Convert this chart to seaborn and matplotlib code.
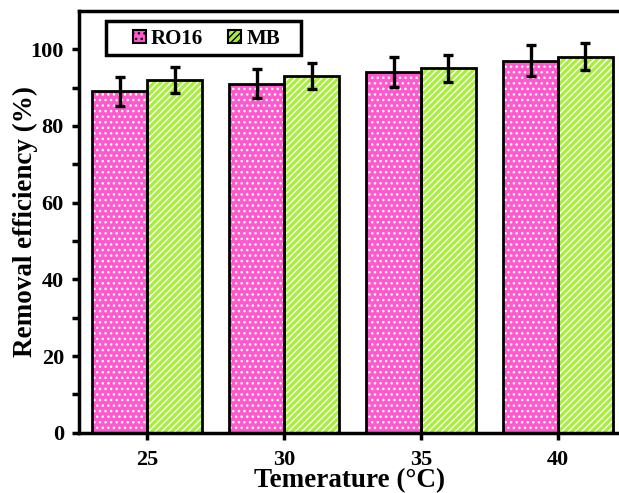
import matplotlib
matplotlib.use('Agg')
import matplotlib.pyplot as plt
import matplotlib.patches as mpatches
import numpy as np
import pandas as pd
import seaborn as sns

sns.set_style('ticks')
plt.rcParams['font.family'] = ['Liberation Serif', 'DejaVu Serif']
plt.rcParams['font.weight'] = 'bold'
plt.rcParams['hatch.linewidth'] = 1.0

# data
temps = ['25', '30', '35', '40']
ro16 = [89, 91, 94, 97]
mb = [92, 93, 95, 98]
ro16_err = [3.8, 3.8, 3.9, 4.0]
mb_err = [3.4, 3.4, 3.5, 3.5]
dyes = ['RO16', 'MB']

df = pd.DataFrame({
    'temp': temps * 2,
    'dye': ['RO16'] * 4 + ['MB'] * 4,
    'eff': ro16 + mb,
    'err': ro16_err + mb_err,
})

colors = {'RO16': '#ff5acd', 'MB': '#a8ef3c'}
hatches = {'RO16': '...', 'MB': '/////'}

fig = plt.figure(figsize=(6.19, 4.93), dpi=100)
ax = fig.add_axes([0.128, 0.122, 0.872, 0.856])

# fill + white hatch
sns.barplot(data=df, x='temp', y='eff', hue='dye', hue_order=dyes, order=temps,
            palette=colors, saturation=1, linewidth=0, width=0.8, legend=False, ax=ax)
for cont, d in zip(ax.containers, dyes):
    for p in cont:
        p.set_hatch(hatches[d])
        p.set_edgecolor('white')
        p.set_linewidth(0)

# black outline on top
n_fill = len(ax.containers)
sns.barplot(data=df, x='temp', y='eff', hue='dye', hue_order=dyes, order=temps,
            fill=False, edgecolor='black', linewidth=2, width=0.8, legend=False, ax=ax)

# error bars
for cont, d in zip(ax.containers[:n_fill], dyes):
    sub = df[df['dye'] == d]
    xs = [p.get_x() + p.get_width() / 2 for p in cont]
    ax.errorbar(xs, sub['eff'], yerr=sub['err'], fmt='none', ecolor='black',
                elinewidth=2.4, capsize=3.5, capthick=2.4, zorder=5)

ax.set_ylim(0, 110)
ax.set_xlim(-0.496, 3.445)
ax.set_yticks([0, 20, 40, 60, 80, 100])
ax.set_yticks([10, 30, 50, 70, 90], minor=True)
ax.tick_params(axis='both', which='major', labelsize=16, width=2.5, length=5,
               direction='out', color='black', labelcolor='black')
ax.tick_params(axis='y', which='minor', width=2.5, length=5, direction='out', color='black')
ax.tick_params(axis='x', pad=7)
ax.tick_params(axis='y', pad=6)
for lab in ax.get_xticklabels() + ax.get_yticklabels():
    lab.set_fontweight('bold')

for s in ['left', 'top', 'bottom']:
    ax.spines[s].set_linewidth(2.5)
    ax.spines[s].set_color('black')
ax.spines['right'].set_visible(False)

ax.set_xlabel('Temerature (°C)', fontsize=19.5, fontweight='bold', labelpad=-1, color='black')
ax.set_ylabel('Removal efficiency (%)', fontsize=19.5, fontweight='bold', labelpad=-5, color='black')

# legend: small squares, wide box drawn separately
handles = [mpatches.Patch(facecolor=colors[d], hatch=hatches[d], edgecolor='black',
                          linewidth=1.5) for d in dyes]
leg = ax.legend(handles, dyes, loc='center left', bbox_to_anchor=(0.08, 0.934), ncol=2,
                fontsize=15, frameon=False, handlelength=0.62, handleheight=0.62,
                handletextpad=0.25, columnspacing=1.2, borderpad=0)
for t in leg.get_texts():
    t.set_fontweight('bold')
    t.set_color('black')
ax.add_patch(mpatches.Rectangle((0.05, 0.896), 0.36, 0.08, transform=ax.transAxes,
                                fill=False, edgecolor='black', linewidth=2.5,
                                clip_on=False, zorder=6))

fig.savefig('out.png', dpi=100)
